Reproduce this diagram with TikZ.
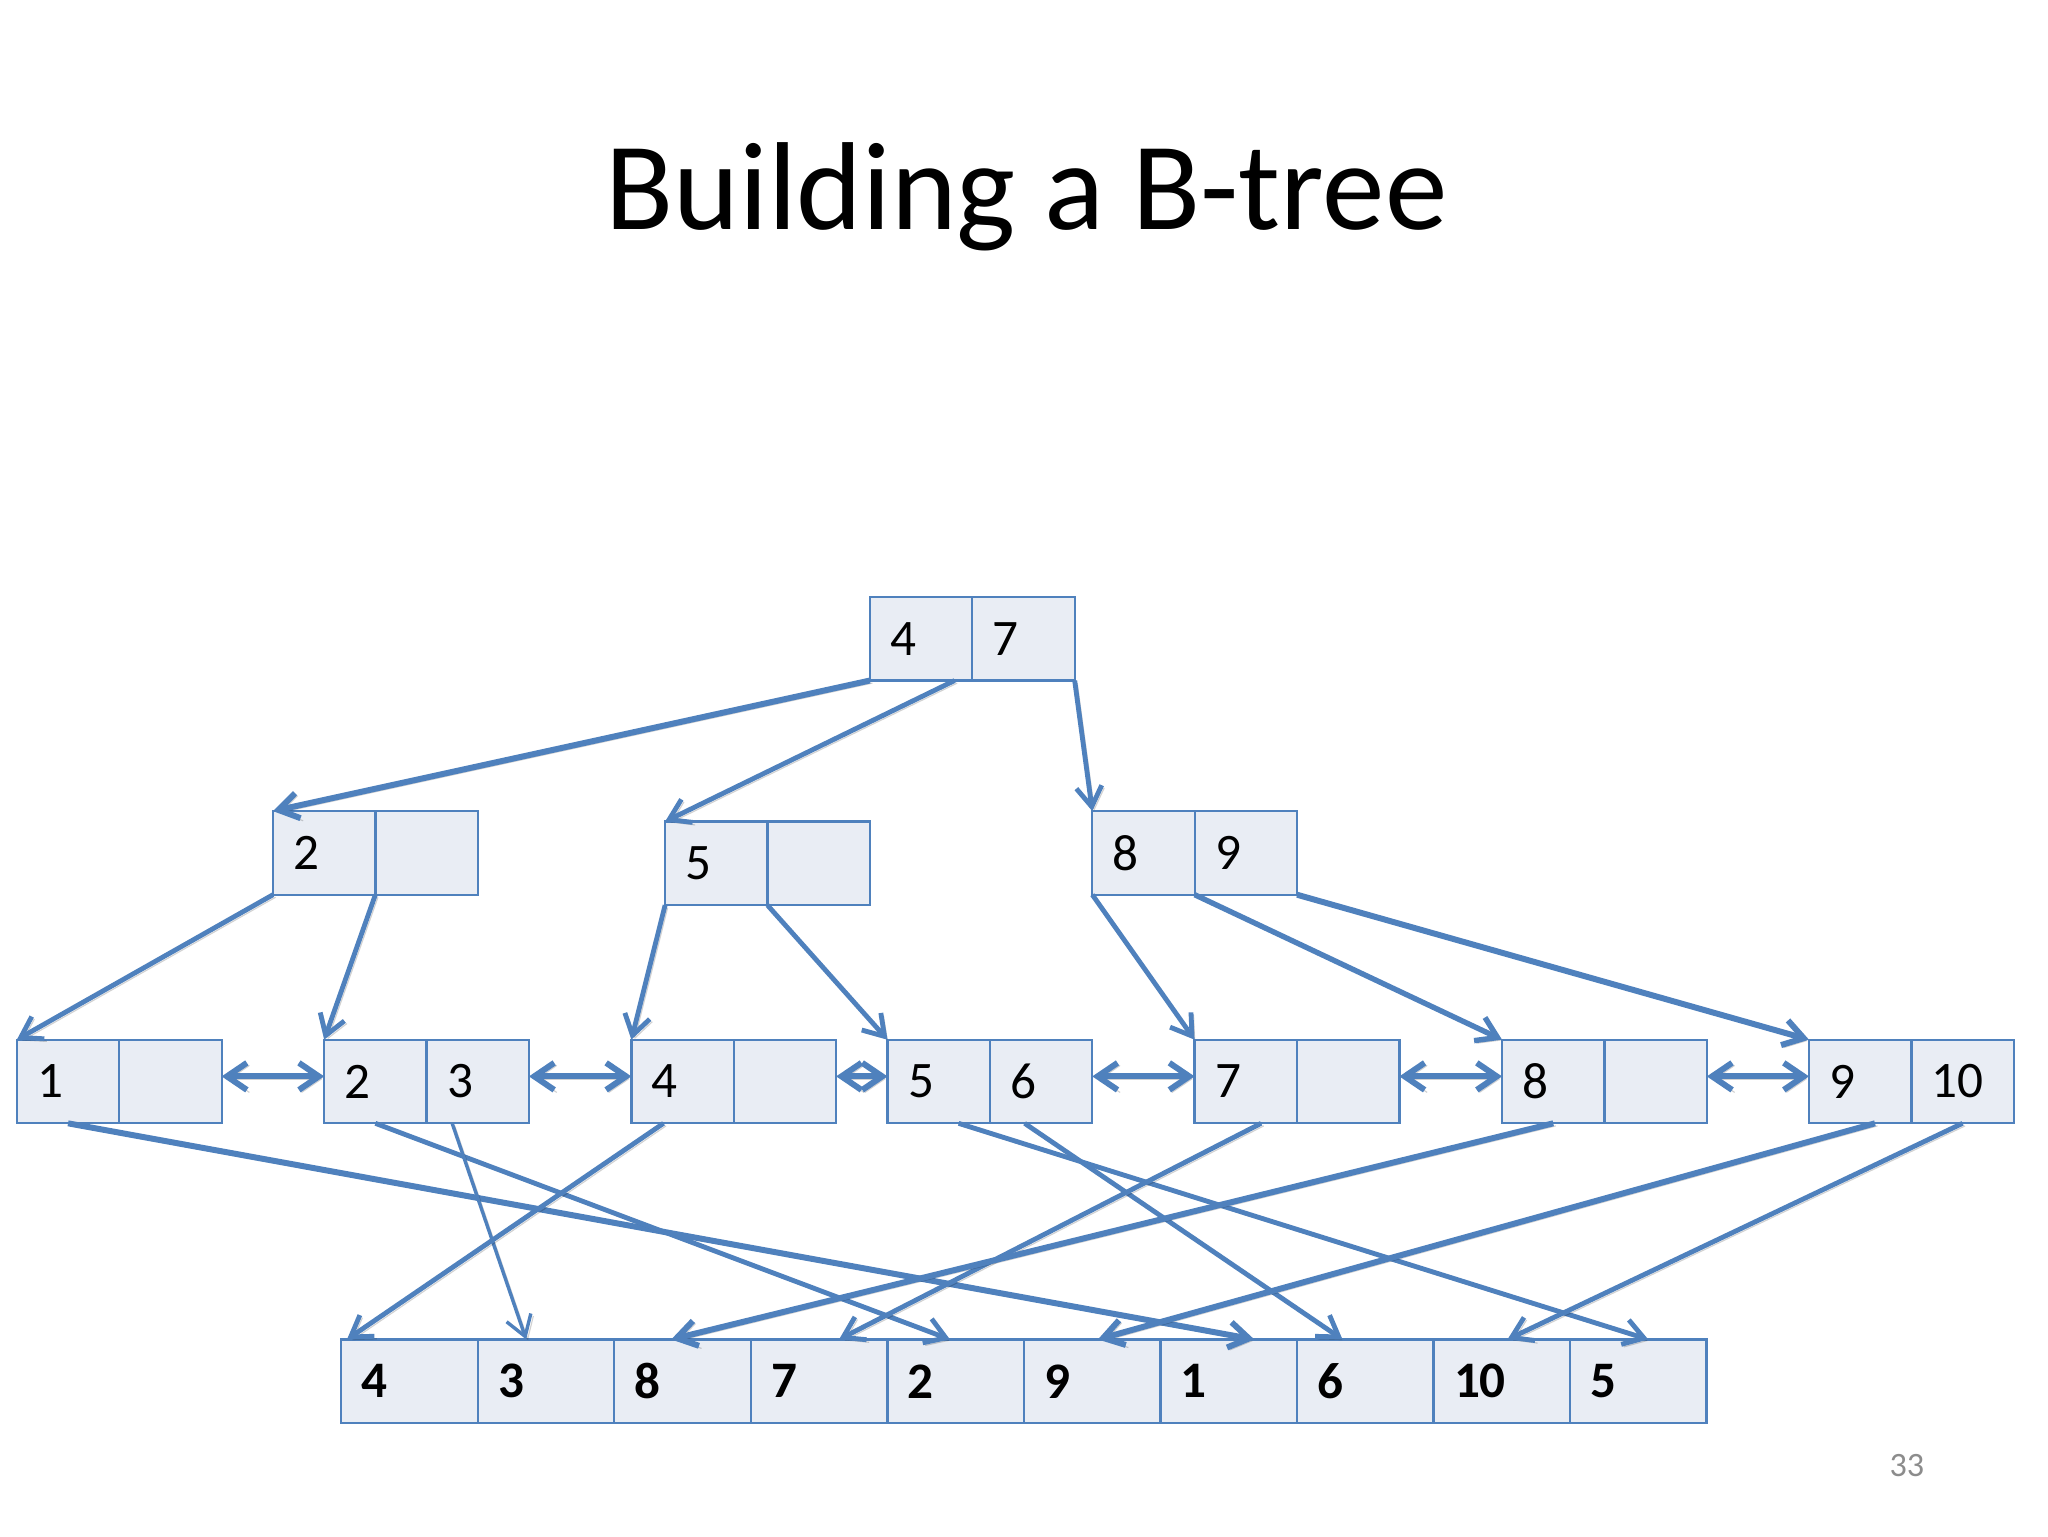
\documentclass[tikz,border=0pt]{standalone}
\usepackage{fontspec}
\setmainfont{Carlito}
\usetikzlibrary{arrows.meta}
\definecolor{lineblue}{HTML}{4F81BD}
\definecolor{cellfill}{HTML}{E9EDF4}
\definecolor{pagegray}{HTML}{8C8C8C}
\begin{document}
\begin{tikzpicture}[x=0.4592pt,y=-0.4592pt,
  cell/.style={draw=lineblue, fill=cellfill, line width=0.8pt, minimum height=29.4pt,
    text width=21.6pt, inner xsep=7.2pt, inner ysep=0pt, outer sep=0pt, align=left, anchor=north west,
    font=\fontsize{18}{21.6}\selectfont},
  bcell/.style={cell, text width=33.6pt, font=\fontsize{18}{21.6}\selectfont\bfseries},
  shade/.style={preaction={draw=black, draw opacity=0.18, transform canvas={shift={(0.9pt,-0.9pt)}}}},
  ptr/.style={draw=lineblue, line width=1.7pt, shade, -{Straight Barb[length=7pt,width=9pt]}},
  link/.style={draw=lineblue, line width=2.1pt, shade,
    {Straight Barb[length=7pt,width=9.5pt]}-{Straight Barb[length=7pt,width=9.5pt]}},
  ]
\path[use as bounding box, fill=white] (0,0) rectangle (1568,1176);

\node[anchor=base, font=\fontsize{44}{52}\selectfont, inner sep=0pt] (title) at (786,175.6) {Building a B-tree};

% root
\node[cell] (r1) at (666,457) {4};
\node[cell] (r2) at (r1.north east) {7};
% level 2
\node[cell] (a1) at (209,621) {2};
\node[cell] (a2) at (a1.north east) {};
\node[cell] (b1) at (509.2,629) {5};
\node[cell] (b2) at (b1.north east) {};
\node[cell] (c1) at (836.3,621) {8};
\node[cell] (c2) at (c1.north east) {9};
% leaves
\node[cell] (l1a) at (12.9,796) {1};
\node[cell] (l1b) at (l1a.north east) {};
\node[cell] (l2a) at (248.2,796) {2};
\node[cell] (l2b) at (l2a.north east) {3};
\node[cell] (l3a) at (483.4,796) {4};
\node[cell] (l3b) at (l3a.north east) {};
\node[cell] (l4a) at (679.5,796) {5};
\node[cell] (l4b) at (l4a.north east) {6};
\node[cell] (l5a) at (914.6,796) {7};
\node[cell] (l5b) at (l5a.north east) {};
\node[cell] (l6a) at (1150,796) {8};
\node[cell] (l6b) at (l6a.north east) {};
\node[cell] (l7a) at (1385,796) {9};
\node[cell] (l7b) at (l7a.north east) {10};
% bottom array
\node[bcell] (q1) at (261.3,1025.5) {4};
\node[bcell] (q2) at (q1.north east) {3};
\node[bcell] (q3) at (q2.north east) {8};
\node[bcell] (q4) at (q3.north east) {7};
\node[bcell] (q5) at (q4.north east) {2};
\node[bcell] (q6) at (q5.north east) {9};
\node[bcell] (q7) at (q6.north east) {1};
\node[bcell] (q8) at (q7.north east) {6};
\node[bcell] (q9) at (q8.north east) {10};
\node[bcell] (q10) at (q9.north east) {5};

\node[font=\fontsize{12}{14}\selectfont, text=pagegray] (pg) at (1460,1122) {33};

% tree pointers
\draw[ptr, line width=2.1pt] (r1.south west) -- (a1.north west);
\draw[ptr] ([xshift=-6.2pt]r1.south east) -- (b1.north west);
\draw[ptr] (r2.south east) -- (c1.north west);
\draw[ptr] (a1.south west) -- (l1a.north west);
\draw[ptr] (a1.south east) -- (l2a.north west);
\draw[ptr] (b1.south west) -- (l3a.north west);
\draw[ptr] (b1.south east) -- (l4a.north west);
\draw[ptr] (c1.south west) -- (l5a.north west);
\draw[ptr, line width=1.9pt] (c1.south east) -- (l6a.north west);
\draw[ptr, line width=2.1pt] (c2.south east) -- (l7a.north west);

% leaf links
\draw[link] ([yshift=1.8pt]l1b.east) -- ([yshift=1.8pt]l2a.west);
\draw[link] ([yshift=1.8pt]l2b.east) -- ([yshift=1.8pt]l3a.west);
\draw[link] ([yshift=1.8pt]l3b.east) -- ([yshift=1.8pt]l4a.west);
\draw[link] ([yshift=1.8pt]l4b.east) -- ([yshift=1.8pt]l5a.west);
\draw[link] ([yshift=1.8pt]l5b.east) -- ([yshift=1.8pt]l6a.west);
\draw[link] ([yshift=1.8pt]l6b.east) -- ([yshift=1.8pt]l7a.west);

% leaf to array pointers
\draw[ptr, line width=2.1pt] (l1a.south) -- ([xshift=33pt]q7.north west);
\draw[ptr] (l2a.south) -- ([xshift=22pt]q5.north west);
\draw[ptr, line width=1.2pt] ([xshift=9pt]l2b.south west) -- ([xshift=17pt]q2.north west);
\draw[ptr] ([xshift=11.3pt]l3a.south west) -- ([xshift=2pt]q1.north west);
\draw[ptr] ([xshift=25pt]l4a.south west) -- ([xshift=27.5pt]q10.north west);
\draw[ptr] ([xshift=12.2pt]l4b.south west) -- ([xshift=16pt]q8.north west);
\draw[ptr] ([xshift=23.4pt]l5a.south west) -- ([xshift=31pt]q4.north west);
\draw[ptr, line width=2.1pt] (l6a.south) -- ([xshift=20pt]q3.north west);
\draw[ptr, line width=2.1pt] ([xshift=23.2pt]l7a.south west) -- ([xshift=26pt]q6.north west);
\draw[ptr] (l7b.south) -- ([xshift=26pt]q9.north west);
\end{tikzpicture}
\end{document}
